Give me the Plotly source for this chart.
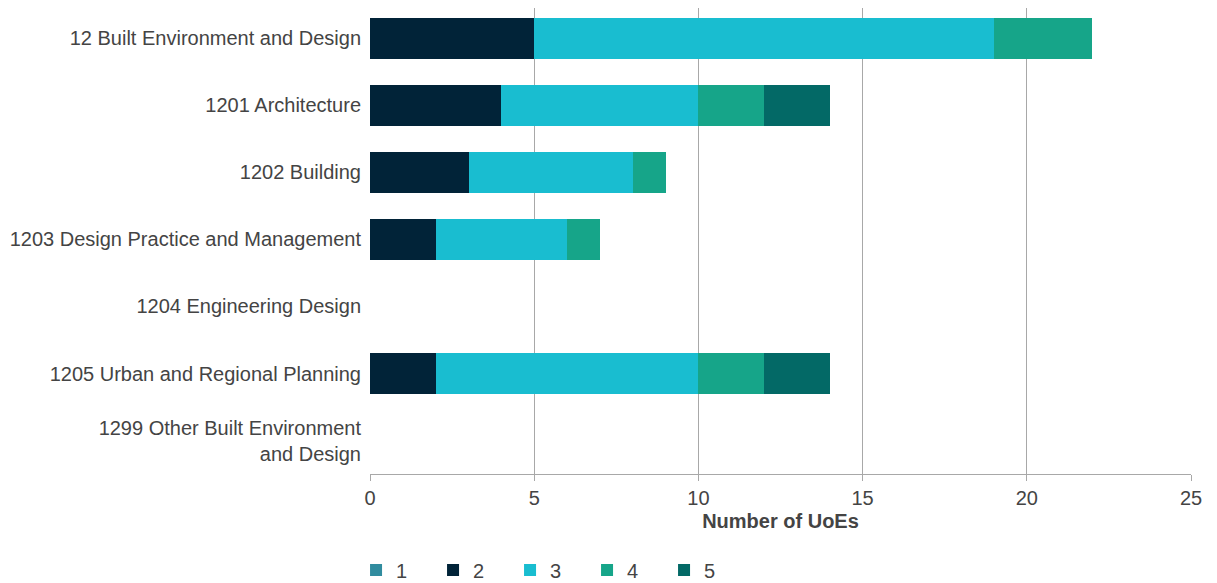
import plotly.graph_objects as go

categories = [
    "12 Built Environment and Design",
    "1201 Architecture",
    "1202 Building",
    "1203 Design Practice and Management",
    "1204 Engineering Design",
    "1205 Urban and Regional Planning",
    "1299 Other Built Environment<br>and Design",
]
series_names = ["1", "2", "3", "4", "5"]
values_1 = [0, 0, 0, 0, 0, 0, 0]
values_2 = [5, 4, 3, 2, 0, 2, 0]
values_3 = [14, 6, 5, 4, 0, 8, 0]
values_4 = [3, 2, 1, 1, 0, 2, 0]
values_5 = [0, 2, 0, 0, 0, 2, 0]
colors = ["#318c9f", "#012338", "#19bdd0", "#16a589", "#036966"]

fig = go.Figure()
for name, vals, col in zip(series_names, [values_1, values_2, values_3, values_4, values_5], colors):
    fig.add_trace(go.Bar(y=categories, x=vals, name=name, orientation="h",
                         marker=dict(color=col, line=dict(width=0))))

fig.update_layout(
    barmode="stack",
    bargap=0.4,
    width=1209, height=575,
    margin=dict(l=362, r=26, t=0, b=109, autoexpand=False),
    plot_bgcolor="white", paper_bgcolor="white",
    font=dict(family="Liberation Sans, Arial, sans-serif", size=20, color="#444444"),
    legend=dict(orientation="h", x=-0.017, xanchor="left", y=-0.206, yanchor="middle",
                traceorder="normal", entrywidth=32, entrywidthmode="pixels",
                font=dict(size=20, color="#444444")),
    xaxis=dict(range=[0, 25], dtick=5, showgrid=True, gridcolor="#a8a8a8", gridwidth=1,
               zeroline=False, showline=True, linecolor="#a8a8a8", ticks="outside",
               ticklen=6, tickcolor="#a8a8a8", automargin=False,
               title=dict(text="<b>Number of UoEs</b>", standoff=5, font=dict(size=20, color="#444444"))),
    yaxis=dict(range=[6.5, -0.455], showgrid=False, showline=False, ticks="",
               ticklabelstandoff=8, automargin=False),
)
fig.write_html("out.html")
